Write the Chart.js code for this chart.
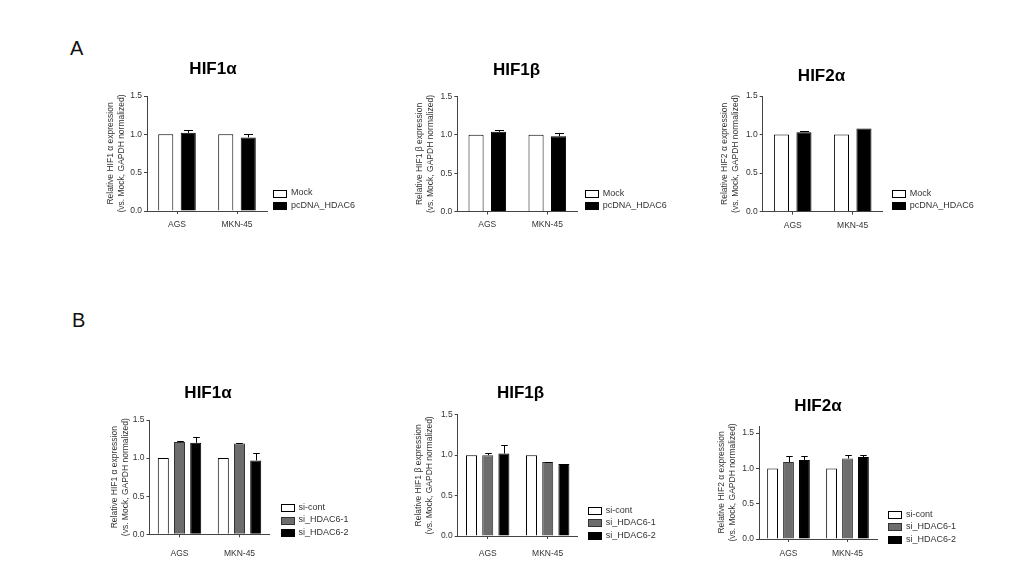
<!DOCTYPE html>
<html><head><meta charset="utf-8">
<script src="https://cdn.jsdelivr.net/npm/chart.js@4.4.1/dist/chart.umd.min.js"></script>
<style>
html,body{margin:0;padding:0;background:#fff;}
body{width:1035px;height:570px;position:relative;overflow:hidden;font-family:Arial,'Liberation Sans',sans-serif;}
canvas{position:absolute;}
.panel{position:absolute;font-size:20px;line-height:20px;color:#111;}
</style></head><body>
<div class="panel" style="left:70px;top:38px">A</div>
<div class="panel" style="left:72px;top:310px">B</div>
<canvas id="a1"></canvas><canvas id="a2"></canvas><canvas id="a3"></canvas>
<canvas id="b1"></canvas><canvas id="b2"></canvas><canvas id="b3"></canvas>
<script>
// ---------- data ----------
const categories = ['AGS', 'MKN-45'];
const yTickValues = [0, 0.5, 1.0, 1.5];
const yTickLabels = ['0.0', '0.5', '1.0', '1.5'];
const seriesA = ['Mock', 'pcDNA_HDAC6'];
const seriesB = ['si-cont', 'si_HDAC6-1', 'si_HDAC6-2'];

// Panel A: overexpression
const a_hif1a_mock = [1.00, 1.00];
const a_hif1a_hdac6 = [1.02, 0.96];
const a_hif1a_hdac6_err = [0.04, 0.05];
const a_hif1b_mock = [1.00, 1.00];
const a_hif1b_hdac6 = [1.04, 0.98];
const a_hif1b_hdac6_err = [0.025, 0.045];
const a_hif2a_mock = [1.00, 1.00];
const a_hif2a_hdac6 = [1.03, 1.08];
const a_hif2a_hdac6_err = [0.02, 0.0];

// Panel B: knockdown
const b_hif1a_cont = [1.00, 1.00];
const b_hif1a_si1 = [1.21, 1.19];
const b_hif1a_si1_err = [0.02, 0.01];
const b_hif1a_si2 = [1.20, 0.97];
const b_hif1a_si2_err = [0.08, 0.095];
const b_hif1b_cont = [1.00, 1.00];
const b_hif1b_si1 = [1.00, 0.915];
const b_hif1b_si1_err = [0.025, 0.005];
const b_hif1b_si2 = [1.02, 0.89];
const b_hif1b_si2_err = [0.10, 0.005];
const b_hif2a_cont = [1.00, 1.00];
const b_hif2a_si1 = [1.09, 1.14];
const b_hif2a_si1_err = [0.08, 0.05];
const b_hif2a_si2 = [1.12, 1.16];
const b_hif2a_si2_err = [0.05, 0.03];

// ---------- styles ----------
const FONT = "Arial, 'Liberation Sans', sans-serif";
const AXIS = '#444';
const TXT = '#333';
const fillsA = ['#ffffff', '#000000'];
const bordersA = ['#000000', '#000000'];
const fillsB = ['#ffffff', '#6d6d6d', '#000000'];
const bordersB = ['#000000', '#333333', '#000000'];

const errorBarPlugin = {
  id: 'errorBars',
  afterDatasetsDraw(chart) {
    const ctx = chart.ctx, ys = chart.scales.y;
    chart.data.datasets.forEach((ds, d) => {
      if (!ds.errorBars) return;
      const meta = chart.getDatasetMeta(d);
      meta.data.forEach((bar, i) => {
        const e = ds.errorBars[i];
        if (!e) return;
        const top = Math.round(ys.getPixelForValue(ds.data[i] + e)) + 0.5;
        const x = Math.round(bar.x) + 0.5;
        const half = bar.width * 0.3;
        ctx.save();
        ctx.strokeStyle = '#000'; ctx.lineWidth = 1;
        ctx.beginPath();
        ctx.moveTo(x, bar.y); ctx.lineTo(x, top);
        ctx.moveTo(x - half, top); ctx.lineTo(x + half, top);
        ctx.stroke();
        ctx.restore();
      });
    });
  }
};

const sideLegendPlugin = {
  id: 'sideLegend',
  afterDraw(chart, args, opts) {
    const ctx = chart.ctx, ca = chart.chartArea;
    const n = chart.data.datasets.length;
    const x0 = ca.right + opts.offX;
    ctx.save();
    ctx.font = '9px ' + FONT;
    ctx.textBaseline = 'middle'; ctx.textAlign = 'left';
    chart.data.datasets.forEach((ds, i) => {
      const cy = ca.bottom + opts.offY - (n - 1 - i) * opts.spacing;
      const bx = Math.round(x0) + 0.5, by = Math.round(cy - 3.5) + 0.5;
      ctx.fillStyle = ds.backgroundColor; ctx.fillRect(bx, by, 13, 7);
      ctx.strokeStyle = ds.borderColor; ctx.lineWidth = 1; ctx.strokeRect(bx, by, 13, 7);
      ctx.fillStyle = TXT; ctx.fillText(ds.label, x0 + 18, cy);
    });
    ctx.restore();
  }
};

function makeChart(id, L, spec) {
  const cv = document.getElementById(id);
  cv.width = L.w; cv.height = L.h;
  cv.style.left = L.x + 'px'; cv.style.top = L.y + 'px';
  cv.style.width = L.w + 'px'; cv.style.height = L.h + 'px';
  new Chart(cv, {
    type: 'bar',
    data: {
      labels: categories,
      datasets: spec.series.map((name, i) => ({
        label: name, data: spec.values[i], errorBars: spec.errors[i],
        backgroundColor: spec.fills[i], borderColor: spec.borders[i], borderWidth: 1,
        categoryPercentage: L.cat, barPercentage: L.bar
      }))
    },
    options: {
      responsive: false, animation: false, devicePixelRatio: 1,
      layout: { padding: 0 },
      plugins: {
        legend: { display: false }, tooltip: { enabled: false },
        title: { display: true, text: spec.title, color: '#000',
          font: { family: FONT, size: 17, weight: 'bold', lineHeight: 1.2 },
          padding: { top: 0, bottom: L.titlePad } },
        sideLegend: { offX: L.lgX, offY: L.lgY, spacing: L.lgS }
      },
      scales: {
        x: {
          offset: true,
          border: { display: true, color: AXIS, width: 1 },
          grid: { display: true, offset: false, drawOnChartArea: false, drawTicks: true, tickLength: 3, color: AXIS },
          ticks: { color: TXT, font: { family: FONT, size: 8.5 }, padding: L.xPad, maxRotation: 0, autoSkip: false },
          afterFit: s => { s.height = L.xH; }
        },
        y: {
          min: 0, max: spec.yMax,
          border: { display: true, color: AXIS, width: 1 },
          grid: { display: true, drawOnChartArea: false, drawTicks: true, tickLength: 3, color: AXIS },
          ticks: { color: TXT, font: { family: FONT, size: 8.5 }, padding: 2,
            callback: v => { const k = yTickValues.findIndex(t => Math.abs(t - v) < 1e-6); return k < 0 ? '' : yTickLabels[k]; } },
          afterBuildTicks: s => { s.ticks = yTickValues.map(v => ({ value: v })); },
          title: { display: true, text: spec.yTitle, color: TXT,
            font: { family: FONT, size: 8.5, lineHeight: 1.3 }, padding: { top: L.yTitlePad, bottom: 0 } },
          afterFit: s => { s.width = L.yW; }
        },
        // empty right-hand scale: reserves room for the legend without shrinking the title box
        legendSpace: {
          type: 'linear', position: 'right', min: 0, max: 1, display: true,
          grid: { display: false }, border: { display: false }, ticks: { display: false },
          afterFit: s => { s.width = L.padR; }
        }
      }
    },
    plugins: [errorBarPlugin, sideLegendPlugin]
  });
}

const yTitle = g => ['Relative ' + g + ' expression', '(vs. Mock, GAPDH normalized)'];

makeChart('a1', {x:70, y:59, w:286, h:174, yW:77, xH:22, padR:89, titlePad:16.6, yTitlePad:35.5, xPad:5.5, lgX:6, lgY:-5.5, lgS:12.5, cat:0.75, bar:0.67},
  {title:'HIF1α', yTitle:yTitle('HIF1 α'), yMax:1.5, series:seriesA, fills:fillsA, borders:bordersA,
   values:[a_hif1a_mock, a_hif1a_hdac6], errors:[null, a_hif1a_hdac6_err]});
makeChart('a2', {x:363, y:60, w:307, h:174, yW:94.3, xH:22.5, padR:92.7, titlePad:16.1, yTitlePad:51.5, xPad:5.5, lgX:7.5, lgY:-6, lgS:12.4, cat:0.75, bar:0.67},
  {title:'HIF1β', yTitle:yTitle('HIF1 β'), yMax:1.5, series:seriesA, fills:fillsA, borders:bordersA,
   values:[a_hif1b_mock, a_hif1b_hdac6], errors:[null, a_hif1b_hdac6_err]});
makeChart('a3', {x:668, y:66, w:307, h:168, yW:94.7, xH:22.3, padR:92.3, titlePad:9.6, yTitlePad:51.5, xPad:5.5, lgX:9, lgY:-6, lgS:11.7, cat:0.75, bar:0.67},
  {title:'HIF2α', yTitle:yTitle('HIF2 α'), yMax:1.5, series:seriesA, fills:fillsA, borders:bordersA,
   values:[a_hif2a_mock, a_hif2a_hdac6], errors:[null, a_hif2a_hdac6_err]});

makeChart('b1', {x:66, y:383, w:284, h:181, yW:83.5, xH:29.7, padR:80.5, titlePad:16.6, yTitlePad:43, xPad:11, lgX:11, lgY:-1.6, lgS:12.7, cat:0.81, bar:0.68},
  {title:'HIF1α', yTitle:yTitle('HIF1 α'), yMax:1.5, series:seriesB, fills:fillsB, borders:bordersB,
   values:[b_hif1a_cont, b_hif1a_si1, b_hif1a_si2], errors:[null, b_hif1a_si1_err, b_hif1a_si2_err]});
makeChart('b2', {x:383, y:383, w:275, h:181, yW:74.7, xH:28, padR:80.3, titlePad:11.3, yTitlePad:30.5, xPad:9.5, lgX:10, lgY:-0.7, lgS:12.6, cat:0.81, bar:0.68},
  {title:'HIF1β', yTitle:yTitle('HIF1 β'), yMax:1.5, series:seriesB, fills:fillsB, borders:bordersB,
   values:[b_hif1b_cont, b_hif1b_si1, b_hif1b_si2], errors:[null, b_hif1b_si1_err, b_hif1b_si2_err]});
makeChart('b3', {x:678, y:396, w:280, h:167, yW:81, xH:24, padR:81, titlePad:9.6, yTitlePad:38.2, xPad:6.5, lgX:11, lgY:0.3, lgS:12.5, cat:0.81, bar:0.68},
  {title:'HIF2α', yTitle:yTitle('HIF2 α'), yMax:1.6, series:seriesB, fills:fillsB, borders:bordersB,
   values:[b_hif2a_cont, b_hif2a_si1, b_hif2a_si2], errors:[null, b_hif2a_si1_err, b_hif2a_si2_err]});
</script>
</body></html>
